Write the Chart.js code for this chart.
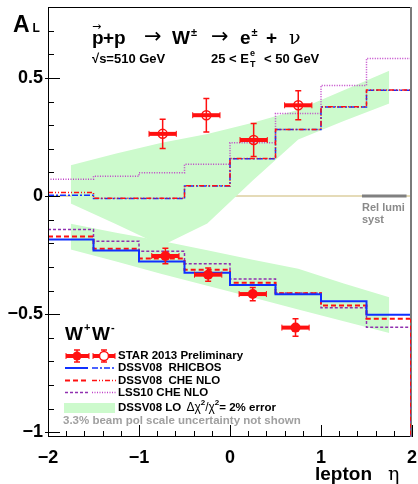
<!DOCTYPE html>
<html>
<head>
<meta charset="utf-8">
<script src="https://cdn.jsdelivr.net/npm/chart.js@4.4.1/dist/chart.umd.min.js"></script>
<style>
  html, body { margin: 0; background: #fff; }
  #wrap { width: 418px; height: 484px; }
</style>
</head>
<body>
<div id="wrap"><canvas id="alChart"></canvas></div>
<script>
// ── data ──
const binEdges = [-2, -1.5, -1, -0.5, 0, 0.5, 1, 1.5, 2];

// W+ theory curves (one value per eta bin)
const wpRhicbos = [0.003, -0.011, -0.011, 0.042, 0.158, 0.281, 0.377, 0.448];
const wpCheNlo  = [0.015, -0.009, -0.009, 0.043, 0.159, 0.282, 0.378, 0.449];
const wpLss10   = [0.071, 0.084, 0.098, 0.134, 0.225, 0.349, 0.468, 0.582];

// W- theory curves
const wmRhicbos = [-0.184, -0.231, -0.277, -0.325, -0.377, -0.416, -0.445, -0.503];
const wmCheNlo  = [-0.171, -0.223, -0.265, -0.312, -0.367, -0.412, -0.463, -0.519];
const wmLss10   = [-0.142, -0.191, -0.234, -0.287, -0.351, -0.410, -0.473, -0.556];

// DSSV08 LO error bands (at bin centres)
const bandEta  = [-1.75, -1.25, -0.75, -0.25, 0.25, 0.75, 1.25, 1.75];
const wpBandHi = [0.130, 0.180, 0.225, 0.262, 0.310, 0.365, 0.448, 0.530];
const wpBandLo = [-0.032, -0.120, -0.210, -0.116, 0.066, 0.239, 0.317, 0.392];
const wmBandHi = [-0.117, -0.155, -0.190, -0.230, -0.270, -0.308, -0.370, -0.428];
const wmBandLo = [-0.226, -0.277, -0.330, -0.380, -0.430, -0.480, -0.530, -0.580];

// STAR 2013 preliminary points
const plusEta   = [-0.74, -0.26, 0.26, 0.75];
const plusAL    = [0.263, 0.342, 0.237, 0.384];
const plusErr   = [0.062, 0.071, 0.070, 0.061];
const minusEta  = [-0.71, -0.24, 0.25, 0.72];
const minusAL   = [-0.254, -0.333, -0.415, -0.557];
const minusErr  = [0.033, 0.028, 0.028, 0.037];
const etaHalf   = [0.15, 0.15, 0.15, 0.15];

const relLumiRange = [1.45, 1.94];

const xTickValues = [-2, -1, 0, 1, 2];
const yTickValues = [-1, -0.5, 0, 0.5];

// ── styling ──
const FONT = '"Liberation Sans", Arial, sans-serif';
const SYM = '"DejaVu Sans", sans-serif';
const RED = '#ff1010';
const BLUE = '#1030ff';
const MAGENTA = '#c040c8';
const PURPLE = '#9030b0';
const GREEN = '#ccfacc';

const hist = vals => binEdges.map((e, i) => ({ x: e, y: vals[Math.min(i, vals.length - 1)] }));
const pts = (xs, ys) => xs.map((v, i) => ({ x: v, y: ys[i] }));
const fmt = v => (v < 0 ? '\u2212' + Math.abs(v) : String(v));

function histSet(label, vals, color, dash, width, order) {
    return {
        label, data: hist(vals), stepped: 'before', borderColor: color,
        borderDash: dash, borderWidth: width, pointRadius: 0, fill: false, order
    };
}
function bandSet(label, ys, fill, order) {
    return {
        label, data: pts(bandEta, ys), fill, backgroundColor: GREEN,
        borderWidth: 0, pointRadius: 0, tension: 0, order
    };
}

function drawErr(ctx, px, py, x0, x1, y0, y1) {
    ctx.strokeStyle = RED;
    ctx.lineWidth = 4;
    ctx.beginPath(); ctx.moveTo(x0, py); ctx.lineTo(x1, py); ctx.stroke();
    ctx.lineWidth = 1;
    ctx.beginPath();
    ctx.moveTo(x0, py - 3); ctx.lineTo(x0, py + 3);
    ctx.moveTo(x1, py - 3); ctx.lineTo(x1, py + 3);
    ctx.stroke();
    ctx.lineWidth = 1.5;
    ctx.beginPath();
    ctx.moveTo(px, y0); ctx.lineTo(px, y1);
    ctx.moveTo(px - 3, y0); ctx.lineTo(px + 3, y0);
    ctx.moveTo(px - 3, y1); ctx.lineTo(px + 3, y1);
    ctx.stroke();
}

const errorBars = {
    id: 'errorBars',
    beforeDatasetDraw(chart, args) {
        const ds = chart.data.datasets[args.index];
        if (!ds.errY) return;
        const { ctx, scales: { x, y } } = chart;
        ctx.save();
        ds.data.forEach((p, i) => {
            drawErr(ctx,
                x.getPixelForValue(p.x), y.getPixelForValue(p.y),
                x.getPixelForValue(p.x - ds.errX[i]), x.getPixelForValue(p.x + ds.errX[i]),
                y.getPixelForValue(p.y + ds.errY[i]), y.getPixelForValue(p.y - ds.errY[i]));
        });
        ctx.restore();
    }
};

function text(ctx, s, x, y, size, opt) {
    opt = opt || {};
    ctx.font = (opt.weight || 'bold') + ' ' + size + 'px ' + (opt.family || FONT);
    ctx.fillStyle = opt.color || '#000';
    ctx.textAlign = opt.align || 'left';
    ctx.textBaseline = opt.base || 'alphabetic';
    ctx.fillText(s, x, y);
    return ctx.measureText(s).width;
}
function seg(ctx, x0, x1, y, color, dash, w) {
    ctx.strokeStyle = color; ctx.lineWidth = w; ctx.setLineDash(dash);
    ctx.beginPath(); ctx.moveTo(x0, y); ctx.lineTo(x1, y); ctx.stroke();
    ctx.setLineDash([]);
}

const frame = {
    id: 'frame',
    beforeDatasetsDraw(chart) {
        const { ctx, chartArea: a, scales: { y } } = chart;
        const y0 = y.getPixelForValue(0);
        ctx.save();
        seg(ctx, a.left, a.right, y0, '#dccfa0', [], 1.5);
        ctx.restore();
    },
    afterDraw(chart) {
        const { ctx, chartArea: a, scales: { x, y } } = chart;
        ctx.save();
        // rel lumi bar
        const y0 = y.getPixelForValue(0);
        seg(ctx, x.getPixelForValue(relLumiRange[0]), x.getPixelForValue(relLumiRange[1]), y0, '#808080', [], 3);
        text(ctx, 'Rel lumi', 362, 211, 11, { color: '#8a8a8a' });
        text(ctx, 'syst', 362, 223, 11, { color: '#8a8a8a' });

        // frame
        ctx.strokeStyle = '#000'; ctx.lineWidth = 1;
        ctx.beginPath();
        ctx.moveTo(a.left + 0.5, a.top); ctx.lineTo(a.left + 0.5, a.bottom);
        ctx.moveTo(a.left, a.bottom - 0.5); ctx.lineTo(a.right, a.bottom - 0.5);
        ctx.moveTo(a.left, a.top + 0.5); ctx.lineTo(a.right, a.top + 0.5);
        ctx.stroke();
        ctx.strokeStyle = '#7a7a7a'; ctx.lineWidth = 2;
        ctx.beginPath(); ctx.moveTo(a.right - 1, a.top); ctx.lineTo(a.right - 1, a.bottom); ctx.stroke();
        // histogram outlines close down to the frame floor at the last edge
        ctx.setLineDash([4, 3]);
        [[wmLss10, PURPLE], [wmCheNlo, RED]].forEach(([vals, col]) => {
            ctx.strokeStyle = col; ctx.lineWidth = 1;
            ctx.beginPath();
            ctx.moveTo(a.right - 1.5, y.getPixelForValue(vals[vals.length - 1]));
            ctx.lineTo(a.right - 1.5, a.bottom);
            ctx.stroke();
        });
        ctx.setLineDash([]);

        // ticks
        ctx.strokeStyle = '#000'; ctx.lineWidth = 1;
        ctx.beginPath();
        for (let i = -10; i <= 8; i++) {
            const py = Math.round(y.getPixelForValue(i / 10)) + 0.5;
            if (py < a.top || py > a.bottom) continue;
            const len = i % 5 === 0 ? 12 : 6;
            ctx.moveTo(a.left - (i % 5 === 0 ? 3 : 0), py); ctx.lineTo(a.left + len, py);
        }
        for (let i = -10; i <= 10; i++) {
            const px = Math.round(x.getPixelForValue(i / 5)) + 0.5;
            const len = i % 5 === 0 ? 12 : 6;
            ctx.moveTo(px, a.bottom); ctx.lineTo(px, a.bottom - len);
        }
        ctx.stroke();

        // axis titles
        let w = text(ctx, 'A', 13, 32, 23);
        text(ctx, 'L', 13 + w + 3, 32, 12);
        text(ctx, 'lepton', 315, 480, 19);
        text(ctx, '\u03b7', 388, 480, 19, { weight: 'normal', family: '"DejaVu Serif", serif' });

        // title
        const tb = 44;
        text(ctx, 'p', 92, tb, 19);
        text(ctx, '\u2192', 92, tb - 14, 11, { weight: 'normal', family: SYM });
        text(ctx, '+p', 103, tb, 19);
        text(ctx, '\u2192', 144, tb - 1, 21, { weight: 'normal', family: SYM });
        w = text(ctx, 'W', 172, tb, 19);
        text(ctx, '\u00b1', 172 + w + 1, tb - 8, 11);
        text(ctx, '\u2192', 211, tb - 1, 21, { weight: 'normal', family: SYM });
        w = text(ctx, 'e', 240, tb, 19);
        text(ctx, '\u00b1', 240 + w + 1, tb - 8, 11);
        text(ctx, '+', 266, tb, 19);
        text(ctx, '\u03bd', 289, tb, 19, { weight: 'normal', family: '"DejaVu Serif", serif' });
        const sb = 63;
        text(ctx, '\u221as=510 GeV', 92, sb, 13);
        w = text(ctx, '25 < E', 211, sb, 13);
        text(ctx, 'T', 211 + w + 1, sb + 4, 9);
        text(ctx, 'e', 211 + w + 1, sb - 7, 9);
        text(ctx, '< 50 GeV', 264, sb, 13);

        // legend
        w = text(ctx, 'W', 65, 340, 19);
        text(ctx, '+', 65 + w + 1, 331, 11);
        w = text(ctx, 'W', 92, 340, 19);
        text(ctx, '-', 92 + w + 1, 331, 11);

        const ly = [356, 368, 380.5, 392.5, 407.5, 420.5];
        drawErr(ctx, 77, ly[0], 66, 89, ly[0] - 6, ly[0] + 6);
        ctx.fillStyle = RED; ctx.beginPath(); ctx.arc(77, ly[0], 4.5, 0, Math.PI * 2); ctx.fill();
        drawErr(ctx, 104, ly[0], 93, 115, ly[0] - 6, ly[0] + 6);
        ctx.fillStyle = '#fff'; ctx.strokeStyle = RED; ctx.lineWidth = 1.5;
        ctx.beginPath(); ctx.arc(104, ly[0], 4.5, 0, Math.PI * 2); ctx.fill(); ctx.stroke();

        seg(ctx, 65, 88, ly[1], BLUE, [], 2);
        seg(ctx, 92, 116, ly[1], BLUE, [6, 2, 2, 2], 1.5);
        seg(ctx, 65, 88, ly[2], RED, [5, 3], 2);
        seg(ctx, 92, 116, ly[2], RED, [5, 2, 1, 2, 1, 2], 1.5);
        seg(ctx, 65, 88, ly[3], PURPLE, [3, 2], 1.5);
        seg(ctx, 92, 116, ly[3], MAGENTA, [1, 1.5], 1.5);
        ctx.fillStyle = GREEN; ctx.fillRect(64, 403, 51, 10);

        const lo = { base: 'middle' };
        text(ctx, 'STAR 2013 Preliminary', 118, ly[0], 11.5, lo);
        text(ctx, 'DSSV08  RHICBOS', 118, ly[1], 11.5, lo);
        text(ctx, 'DSSV08  CHE NLO', 118, ly[2], 11.5, lo);
        text(ctx, 'LSS10 CHE NLO', 118, ly[3], 11.5, lo);
        let lx = 118;
        lx += text(ctx, 'DSSV08 LO ', lx, ly[4], 11.5, lo) + 2;
        lx += text(ctx, '\u0394\u03c7', lx, ly[4], 12, { base: 'middle', weight: 'normal' });
        lx += text(ctx, '2', lx, ly[4] - 5, 8, lo);
        lx += text(ctx, '/\u03c7', lx, ly[4], 12, { base: 'middle', weight: 'normal' });
        lx += text(ctx, '2', lx, ly[4] - 5, 8, lo);
        text(ctx, '= 2% error', lx, ly[4], 11.5, lo);
        text(ctx, '3.3% beam pol scale uncertainty not shown', 63, ly[5], 11.5, { base: 'middle', color: '#a0a0a0' });
        ctx.restore();
    }
};

const chart = new Chart(document.getElementById('alChart'), {
    type: 'line',
    data: {
        datasets: [
            bandSet('W+ band hi', wpBandHi, '+1', 20),
            bandSet('W+ band lo', wpBandLo, false, 19),
            bandSet('W- band hi', wmBandHi, '+1', 18),
            bandSet('W- band lo', wmBandLo, false, 17),
            histSet('W+ LSS10 CHE NLO', wpLss10, MAGENTA, [1, 1.5], 1.5, 12),
            histSet('W+ DSSV08 RHICBOS', wpRhicbos, BLUE, [6, 2, 2, 2], 1.5, 11),
            histSet('W+ DSSV08 CHE NLO', wpCheNlo, RED, [5, 2, 1, 2, 1, 2], 1.5, 10),
            histSet('W- LSS10 CHE NLO', wmLss10, PURPLE, [3, 2], 1.5, 9),
            histSet('W- DSSV08 CHE NLO', wmCheNlo, RED, [5, 3], 2, 8),
            histSet('W- DSSV08 RHICBOS', wmRhicbos, BLUE, [], 2, 7),
            {
                label: 'STAR W+', data: pts(plusEta, plusAL), errX: etaHalf, errY: plusErr,
                showLine: false, pointRadius: 4.5, pointBorderWidth: 1.5,
                pointBackgroundColor: 'rgba(255,255,255,0)', pointBorderColor: RED, order: 2
            },
            {
                label: 'STAR W-', data: pts(minusEta, minusAL), errX: etaHalf, errY: minusErr,
                showLine: false, pointRadius: 5, pointBorderWidth: 0,
                pointBackgroundColor: RED, pointBorderColor: RED, order: 1
            }
        ]
    },
    options: {
        responsive: true,
        maintainAspectRatio: false,
        animation: false,
        layout: { padding: { top: 7, right: 6, left: 0, bottom: 0 } },
        plugins: { legend: { display: false }, tooltip: { enabled: false } },
        scales: {
            x: {
                type: 'linear', min: -2, max: 2,
                afterFit: s => { s.height = 47; s.paddingLeft = 0; s.paddingRight = 0; },
                afterBuildTicks: s => { s.ticks = xTickValues.map(v => ({ value: v })); },
                grid: { display: false, drawTicks: false },
                border: { display: false },
                ticks: { callback: fmt, color: '#000', padding: 10, maxRotation: 0,
                         font: { family: FONT, size: 18, weight: 'bold' } }
            },
            y: {
                type: 'linear', min: -1.02, max: 0.8,
                afterFit: s => { s.width = 48; s.paddingTop = 0; s.paddingBottom = 0; },
                afterBuildTicks: s => { s.ticks = yTickValues.map(v => ({ value: v })); },
                grid: { display: false, drawTicks: false },
                border: { display: false },
                ticks: { callback: fmt, color: '#000', padding: 5,
                         font: { family: FONT, size: 18, weight: 'bold' } }
            }
        }
    },
    plugins: [errorBars, frame]
});
</script>
</body>
</html>
